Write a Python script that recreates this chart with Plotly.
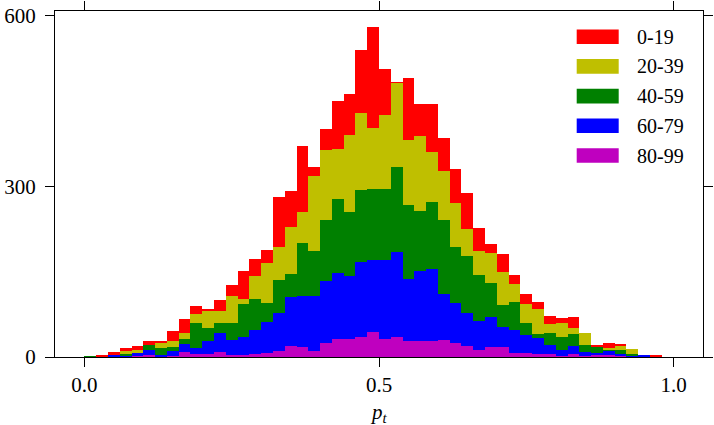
import numpy as np
import plotly.graph_objects as go

# 50 bins of width 0.02 on [0, 1]
bin_edges = np.linspace(0.0, 1.0, 51)
bin_centers = (bin_edges[:-1] + bin_edges[1:]) / 2
bin_width = bin_edges[1] - bin_edges[0]

labels = ["0-19", "20-39", "40-59", "60-79", "80-99"]
colors = ["#ff0000", "#bfbf00", "#008000", "#0000ff", "#bf00bf"]

counts_0_19 = [0, 2, 3, 4, 6, 8, 3, 17, 25, 14, 5, 21, 19, 50, 29, 23, 89, 64, 116, 16,
               36, 84, 72, 111, 177, 80, 1, 110, 56, 85, 57, 60, 64, 39, 17, 32, 16, 18, 12, 14,
               10, 19, 0, 2, 10, 2, 0, 0, 2, 0]
counts_20_39 = [0, 0, 0, 5, 6, 0, 10, 12, 11, 16, 29, 21, 47, 8, 41, 70, 58, 83, 54, 132,
                123, 87, 136, 135, 108, 131, 148, 114, 132, 87, 86, 76, 47, 43, 52, 58, 32, 34, 45, 16,
                24, 10, 21, 0, 1, 7, 8, 0, 0, 0]
counts_40_59 = [1, 0, 0, 5, 0, 9, 12, 6, 8, 43, 22, 17, 30, 59, 54, 34, 58, 40, 93, 79,
                107, 130, 111, 126, 125, 125, 150, 130, 105, 118, 131, 99, 101, 80, 60, 39, 48, 20, 6, 21,
                22, 22, 13, 12, 3, 7, 4, 0, 0, 0]
counts_60_79 = [0, 1, 5, 1, 6, 8, 3, 9, 14, 10, 23, 33, 27, 31, 42, 54, 67, 85, 90, 97,
                109, 116, 111, 131, 126, 138, 149, 108, 123, 127, 80, 70, 58, 51, 53, 35, 41, 32, 29, 15,
                11, 14, 6, 4, 8, 3, 2, 3, 0, 0]
counts_80_99 = [0, 0, 0, 0, 1, 4, 1, 2, 9, 6, 6, 9, 3, 4, 6, 7, 10, 20, 17, 10,
                25, 32, 32, 36, 44, 32, 35, 29, 29, 28, 30, 25, 19, 13, 17, 17, 7, 7, 5, 6,
                2, 5, 2, 3, 3, 3, 0, 0, 0, 0]

series = [counts_0_19, counts_20_39, counts_40_59, counts_60_79, counts_80_99]

serif = "Liberation Serif"

fig = go.Figure()
# bottom of the stack first
for lab, col, vals in reversed(list(zip(labels, colors, series))):
    fig.add_trace(go.Bar(x=bin_centers, y=vals, width=bin_width, name=lab,
                         marker=dict(color=col, line=dict(width=0)),
                         showlegend=False))

# legend drawn by hand, wide patches like the original
shapes = []
annotations = []
for k, (lab, col) in enumerate(zip(labels, colors)):
    yc = 36.7 + k * 29.7
    shapes.append(dict(type="rect", xref="paper", yref="paper",
                       x0=(576.7 - 55) / 648, x1=(618.7 - 55) / 648,
                       y0=(357 - yc - 7.3) / 346, y1=(357 - yc + 7.3) / 346,
                       fillcolor=col, line=dict(width=0)))
    annotations.append(dict(xref="paper", yref="paper", x=(635 - 55) / 648,
                            y=(357 - yc) / 346, text=lab, showarrow=False,
                            xanchor="left", yanchor="middle",
                            font=dict(family=serif, size=20, color="black")))

# x axis title
annotations.append(dict(xref="paper", yref="paper", x=0.5, y=(357 - 413) / 346,
                        text="<i>p</i><sub><i>t</i></sub>", showarrow=False,
                        xanchor="center", yanchor="middle",
                        font=dict(family=serif, size=21, color="black")))

axis_style = dict(showline=True, linecolor="black", linewidth=1.3, mirror="ticks",
                  ticks="outside", ticklen=9, tickwidth=1.3, tickcolor="black",
                  showgrid=False, zeroline=False, automargin=False,
                  tickfont=dict(family=serif, size=21, color="black"))

fig.update_layout(
    width=714, height=425,
    margin=dict(l=55, r=11, t=11, b=68),
    barmode="stack", bargap=0,
    plot_bgcolor="white", paper_bgcolor="white",
    font=dict(family=serif, size=20, color="black"),
    shapes=shapes, annotations=annotations,
    xaxis=dict(range=[-0.05, 1.05], tickvals=[0.0, 0.5, 1.0], ticktext=["0.0", "0.5", "1.0"],
               **axis_style),
    yaxis=dict(range=[0, 608], tickvals=[0, 300, 600], ticklabelstandoff=5, **axis_style),
)

# drop the default page margin so the figure sits at the window corner
fig.write_html("out.html", config={"displayModeBar": False},
               post_script="document.body.style.margin='0';")
